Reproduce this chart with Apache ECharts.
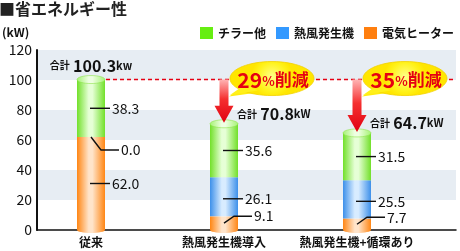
<!DOCTYPE html>
<html><head><meta charset="utf-8">
<script src="https://cdn.jsdelivr.net/npm/echarts@6/dist/echarts.min.js"></script>
<style>html,body{margin:0;padding:0;background:#fff}#c{width:460px;height:251px}</style>
</head><body><div id="c"></div>
<script>
// ---- data ----
const categories = ['従来', '熱風発生機導入', '熱風発生機+循環あり'];
const seriesNames = ['チラー他', '熱風発生機', '電気ヒーター'];
const heaterValues = [62.0, 9.1, 7.7];
const blowerValues = [0.0, 26.1, 25.5];
const chillerValues = [38.3, 35.6, 31.5];
const totalValues = [100.3, 70.8, 64.7];
const totalUnits = ['kw', 'kW', 'kW'];
const reductionPercents = ['', '29', '35'];
const yMin = 0, yMax = 120, yStep = 20;

// ---- styles ----
const FONT = '"Noto Sans CJK JP", "Noto Sans", sans-serif';
const BAR_W = 28;
const G = echarts.graphic.LinearGradient;
const hGrad = (edge, mid) => new G(0, 0, 1, 0, [
  {offset: 0, color: edge}, {offset: 0.42, color: mid}, {offset: 0.55, color: mid}, {offset: 1, color: edge}]);
const colGreen = hGrad('#72e02a', '#e6ffd6');
const colBlue = hGrad('#3d90ea', '#d8ecff');
const colOrange = hGrad('#ff8614', '#ffe4ca');
// per label leader style: [heater, blower, chiller] offsets in px
const labelDy = [[0, 13, 0], [-7, 2, 0], [-7, 2, 0]];
const labelBend = [[false, true, false], [true, false, false], [true, false, false]];

// label items built from data
const labelItems = [];
const labelData = [];
for (let c = 0; c < categories.length; c++) {
  const segs = [heaterValues[c], blowerValues[c], chillerValues[c]];
  let base = 0;
  for (let s = 0; s < 3; s++) {
    const mid = base + segs[s] / 2;
    labelItems.push({text: segs[s].toFixed(1), dy: labelDy[c][s], bend: labelBend[c][s]});
    labelData.push([c, mid]);
    base += segs[s];
  }
}
const totalData = totalValues.map((v, i) => [i, v]);

function renderLabel(params, api) {
  const it = labelItems[params.dataIndex];
  const p = api.coord([api.value(0), api.value(1)]);
  const cx = p[0], y0 = p[1], dy = it.dy;
  let pts, tx;
  if (it.bend) { pts = [[cx, y0], [cx + 10, y0 + dy], [cx + 28, y0 + dy]]; tx = cx + 30; }
  else { pts = [[cx - 1, y0 + dy], [cx + 19, y0 + dy]]; tx = cx + 21; }
  return {type: 'group', children: [
    {type: 'polyline', shape: {points: pts}, style: {stroke: '#111', lineWidth: 1.4, fill: null}},
    {type: 'text', x: tx, y: y0 + dy, style: {text: it.text, fontSize: 14, fontFamily: FONT, fill: '#111', align: 'left', verticalAlign: 'middle'}}
  ]};
}

function renderCaps(params, api) {
  const cat = api.value(0);
  const top = api.coord([cat, api.value(1)]);
  const bot = api.coord([cat, 0]);
  return {type: 'group', children: [
    {type: 'ellipse', shape: {cx: bot[0], cy: bot[1], rx: BAR_W / 2, ry: 3}, style: {fill: colOrange}},
    {type: 'ellipse', shape: {cx: top[0], cy: top[1], rx: BAR_W / 2, ry: 4},
      style: {fill: hGrad('#a4f272', '#eeffe2'), stroke: '#8ee44c', lineWidth: 0.6}}
  ]};
}

function renderAnno(params, api) {
  const i = params.dataIndex;
  const cat = api.value(0), total = api.value(1);
  const top = api.coord([cat, total]);
  const cx = top[0], ty = top[1];
  const lineY = api.coord([0, totalValues[0]])[1];
  const children = [];
  const rich = {
    a: {fontSize: 10, fontWeight: 'bold', fontFamily: FONT, fill: '#111'},
    b: {fontSize: 16, fontWeight: 'bold', fontFamily: FONT, fill: '#111'},
    c: {fontSize: 11, fontWeight: 'bold', fontFamily: FONT, fill: '#111'}
  };
  const txt = '{a|合計} {b|' + total.toFixed(1) + '}{c|' + totalUnits[i] + '}';
  if (i === 0) {
    children.push({type: 'line', shape: {x1: cx + BAR_W / 2 + 1, y1: lineY, x2: api.getWidth() - 4, y2: lineY},
      style: {stroke: '#e60012', lineWidth: 1.5, lineDash: [4, 3]}});
    children.push({type: 'text', x: cx, y: ty - 14, style: {text: txt, rich: rich, align: 'center', verticalAlign: 'middle'}});
  } else {
    const tipY = ty - 1, headH = 17;
    children.push({type: 'polygon', shape: {points: [
      [cx - 4.5, lineY], [cx + 4.5, lineY], [cx + 4.5, tipY - headH], [cx + 9.5, tipY - headH],
      [cx, tipY], [cx - 9.5, tipY - headH], [cx - 4.5, tipY - headH]]},
      style: {fill: new G(0, 0, 0, 1, [{offset: 0, color: '#ffb4b4'}, {offset: 0.45, color: '#f53030'}, {offset: 1, color: '#e00010'}])}});
    const bx = cx + 48, by = lineY - 1;
    const yel = new echarts.graphic.RadialGradient(0.5, 0.45, 0.6, [{offset: 0, color: '#ffff8a'}, {offset: 0.7, color: '#fff21a'}, {offset: 1, color: '#ffe600'}]);
    children.push({type: 'polygon', shape: {points: [[bx - 28, by + 8], [bx - 14, by + 14], [cx + 5, lineY + 17]]}, style: {fill: '#ffec10'}});
    children.push({type: 'ellipse', shape: {cx: bx, cy: by, rx: 42, ry: 17}, style: {fill: yel, stroke: '#f2d000', lineWidth: 0.8}});
    children.push({type: 'polygon', shape: {points: [[bx - 27, by + 6], [bx - 14, by + 12], [cx + 6, lineY + 15.5]]}, style: {fill: '#fff01a'}});
    children.push({type: 'text', x: bx + 1, y: by + 1, style: {
      text: '{n|' + reductionPercents[i] + '}{p|%}{k|削減}', align: 'center', verticalAlign: 'middle',
      rich: {
        n: {fontSize: 21, fontWeight: 'bold', fontFamily: FONT, fill: '#e60012'},
        p: {fontSize: 13, fontWeight: 'bold', fontFamily: FONT, fill: '#e60012', padding: [4, 0, 0, 0]},
        k: {fontSize: 17, fontWeight: 'bold', fontFamily: FONT, fill: '#e60012'}
      }}});
    children.push({type: 'text', x: cx + 13, y: ty - 10, style: {text: txt, rich: rich, align: 'left', verticalAlign: 'middle'}});
  }
  return {type: 'group', children: children};
}

const chart = echarts.init(document.getElementById('c'), null, {renderer: 'canvas'});
chart.setOption({
  animation: false,
  backgroundColor: '#fff',
  textStyle: {fontFamily: FONT},
  title: [
    {text: '■省エネルギー性', left: -1, top: 1, padding: 0, textStyle: {fontSize: 16, fontWeight: 'bold', color: '#222', fontFamily: FONT}},
    {text: '(kW)', left: 2, top: 26, padding: 0, textStyle: {fontSize: 12, fontWeight: 'bold', color: '#111', fontFamily: FONT}}
  ],
  legend: {
    right: 6, top: 27, padding: 0, itemWidth: 13, itemHeight: 12, itemGap: 10, icon: 'rect',
    textStyle: {fontSize: 12, fontWeight: 'bold', color: '#111', fontFamily: FONT},
    data: [
      {name: seriesNames[0], itemStyle: {color: '#66ee11'}},
      {name: seriesNames[1], itemStyle: {color: '#3399ff'}},
      {name: seriesNames[2], itemStyle: {color: '#ff7f0f'}}
    ]
  },
  grid: [
    {left: 37, right: 4, top: 50, bottom: 21},
    {left: 24.5, right: 36.5, top: 50, bottom: 21}
  ],
  xAxis: [
    {type: 'category', gridIndex: 0, data: categories, axisLabel: {show: false}, axisTick: {show: false},
      axisLine: {lineStyle: {color: '#111', width: 1.5}}},
    {type: 'category', gridIndex: 1, data: categories, axisTick: {show: false}, axisLine: {show: false},
      axisLabel: {fontSize: 12, fontWeight: 'bold', color: '#111', margin: 6, fontFamily: FONT, interval: 0}}
  ],
  yAxis: [
    {type: 'value', gridIndex: 0, min: yMin, max: yMax, interval: yStep,
      axisLine: {show: true, lineStyle: {color: '#111', width: 2}}, axisTick: {show: false},
      axisLabel: {fontSize: 14, color: '#111', margin: 5, fontFamily: FONT},
      splitLine: {show: false},
      splitArea: {show: true, areaStyle: {color: ['rgba(0,0,0,0)', '#e7edf3']}}},
    {type: 'value', gridIndex: 1, min: yMin, max: yMax, interval: yStep, show: false, splitLine: {show: false}}
  ],
  series: [
    {name: seriesNames[2], type: 'bar', stack: 'a', xAxisIndex: 1, yAxisIndex: 1, barWidth: BAR_W, data: heaterValues, itemStyle: {color: colOrange}},
    {name: seriesNames[1], type: 'bar', stack: 'a', xAxisIndex: 1, yAxisIndex: 1, barWidth: BAR_W, data: blowerValues, itemStyle: {color: colBlue}},
    {name: seriesNames[0], type: 'bar', stack: 'a', xAxisIndex: 1, yAxisIndex: 1, barWidth: BAR_W, data: chillerValues, itemStyle: {color: colGreen}},
    {type: 'custom', xAxisIndex: 1, yAxisIndex: 1, z: 3, renderItem: renderCaps, data: totalData, silent: true},
    {type: 'custom', xAxisIndex: 1, yAxisIndex: 1, z: 4, renderItem: renderLabel, data: labelData, silent: true},
    {type: 'custom', xAxisIndex: 1, yAxisIndex: 1, z: 5, renderItem: renderAnno, data: totalData, silent: true}
  ]
});
</script></body></html>
